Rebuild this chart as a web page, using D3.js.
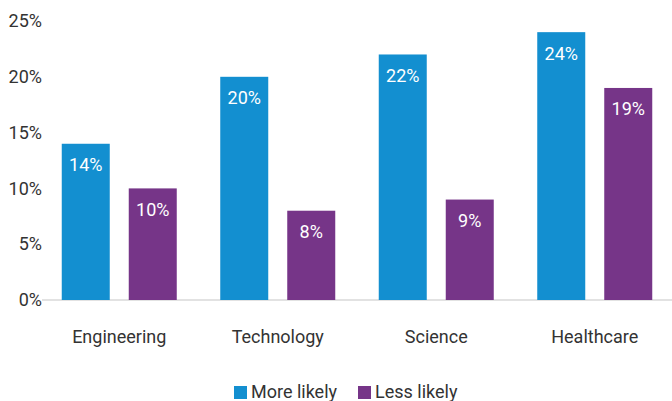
<!DOCTYPE html>
<html>
<head>
  <meta charset="UTF-8">
  <title>More likely / Less likely</title>
  <style>
    body { margin: 0; background: #fff; }
    text { font-family: Roboto, "Noto Sans", sans-serif; }
    .tick text { font-size: 18px; fill: #333; }
    .bar-label { font-size: 18px; fill: #fff; text-anchor: middle; }
    .legend text { font-size: 18px; fill: #333; }
  </style>
</head>
<body>
  <div id="chart"></div>

  <script src="https://d3js.org/d3.v7.min.js"></script>
  <script>
    // chart data
    const categories = ["Engineering", "Technology", "Science", "Healthcare"];
    const moreLikely = [14, 20, 22, 24];
    const lessLikely = [10, 8, 9, 19];
    const seriesNames = ["More likely", "Less likely"];
    const yTicks = [0, 5, 10, 15, 20, 25];

    const colors = ["#138fd0", "#763588"];
    const width = 672, height = 401;

    const svg = d3.select("#chart")
      .append("svg")
      .attr("width", width)
      .attr("height", height);

    const x = d3.scaleBand()
      .domain(categories)
      .range([40, 674])
      .paddingInner(0)
      .paddingOuter(0);

    const x1 = d3.scalePoint()
      .domain(seriesNames)
      .range([-33.5, 33.5]);

    const barWidth = 48;

    const y = d3.scaleLinear()
      .domain([0, 25])
      .range([300, 21]);

    // baseline
    svg.append("line")
      .attr("x1", 42).attr("x2", 672)
      .attr("y1", y(0)).attr("y2", y(0))
      .attr("stroke", "#d9d9d9")
      .attr("stroke-width", 1.5);

    // y axis labels
    const yAxis = svg.append("g")
      .attr("transform", "translate(42,0)")
      .call(d3.axisLeft(y).tickValues(yTicks).tickSize(0).tickPadding(0).tickFormat(d => d + "%"));
    yAxis.select(".domain").remove();

    // category labels
    const xAxis = svg.append("g")
      .attr("transform", "translate(0,337)")
      .call(d3.axisBottom(x).tickSize(0).tickPadding(0));
    xAxis.select(".domain").remove();
    xAxis.selectAll("text").attr("dy", "0.35em");

    const series = [moreLikely, lessLikely];

    series.forEach((vals, si) => {
      const g = svg.append("g");
      const data = categories.map((c, i) => ({ c, v: vals[i] }));

      g.selectAll("rect")
        .data(data)
        .enter()
        .append("rect")
        .attr("x", d => x(d.c) + x.bandwidth() / 2 + x1(seriesNames[si]) - barWidth / 2)
        .attr("width", barWidth)
        .attr("y", d => y(d.v))
        .attr("height", d => y(0) - y(d.v))
        .attr("fill", colors[si]);

      g.selectAll(".bar-label")
        .data(data)
        .enter()
        .append("text")
        .attr("class", "bar-label")
        .attr("x", d => x(d.c) + x.bandwidth() / 2 + x1(seriesNames[si]))
        .attr("y", d => y(d.v) + 27.5)
        .text(d => d.v + "%");
    });

    // legend
    const legend = svg.append("g").attr("class", "legend");
    const legendX = [234, 358];
    seriesNames.forEach((name, i) => {
      legend.append("rect")
        .attr("x", legendX[i]).attr("y", 386)
        .attr("width", 13).attr("height", 13)
        .attr("fill", colors[i]);
      legend.append("text")
        .attr("x", legendX[i] + 17).attr("y", 392)
        .attr("dy", "0.35em")
        .text(name);
    });
  </script>
</body>
</html>
